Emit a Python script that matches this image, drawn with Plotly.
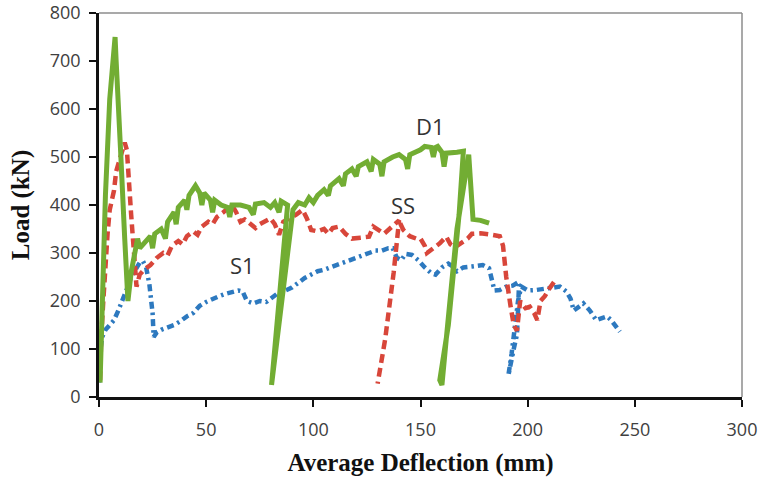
import plotly.graph_objects as go

# Load-deflection curves (deflection in mm, load in kN); None marks a break in the trace
d1_defl = [0.5, 1.5, 3, 5, 7, 7.5, 8, 8.5, 10, 12, 13.5, 15, 17, 18, 19, 21, 24, 25, 26, 29, 31, 32,
           35, 36, 37, 40, 41, 42, 45, 47, 48, 49, 52, 53, 54, 57, 60, 61, 62, 66, 70, 72,
           73, 77, 80, 82, 84, 85, 88, 80.5, 90.5, 93, 96, 98, 100, 102, 105, 107, 108, 112,
           114, 115, 118, 120, 121, 125, 127, 128, 131, 132, 133, 137, 140, 143, 144, 145, 150,
           152, 155, 156, 157, 158, 160, 161, 162, 167, 170, 168, 163, 159, 160, 162, 167,
           172.5, 173.5, 174.5, 178, 182]
d1_load = [30, 200, 420, 620, 720, 750, 700, 640, 520, 330, 200, 260, 300, 330, 310, 320, 335, 310, 340, 350, 330, 365,
           385, 360, 395, 410, 390, 420, 440, 425, 400, 425, 410, 385, 410, 400, 395, 375, 400, 400, 395, 380,
           402, 405, 395, 405, 385, 408, 400, 25, 390, 405, 400, 415, 405, 420, 432, 420, 440, 455,
           440, 465, 475, 460, 480, 490, 470, 495, 485, 460, 490, 500, 505, 495, 475, 505, 515,
           522, 520, 500, 520, 522, 510, 480, 508, 510, 512, 380, 150, 35, 25, 120, 350,
           505, 450, 370, 368, 362]

ss_defl = [0.5, 1, 2, 3, 4, 5, 7, 8, 10, 12, 13, 14, 15, 16, 17.5, 19, 21, 24, 27, 30,
           32, 34, 37, 39, 41, 44, 46, 48, 51, 53, 55, 58, 60, 62, 64, 66, 68, 71, 73, 75,
           78, 80, 82, 84, 86, 89, 92, 95, 97, 99, 102, 105, 107, 109, 112, 115, 118, 122,
           126, 128, 131, 133, 136, 138, 140, 137.5, 133.5, 130, None, 140.5, 142,
           145, 148, 150, 152, 153, 156, 159, 162, 164, 166, 169, 172, 174, 178, 183, 187,
           188.5, 190, 192, 193.5, 195, 196.5, 199, 201, 203, 204.5, 206, 208, 210, 213]
ss_load = [35, 120, 200, 290, 340, 390, 430, 470, 500, 530, 515, 460, 380, 320, 230, 255, 265, 275, 290, 300,
           295, 315, 325, 318, 335, 345, 338, 355, 365, 360, 375, 385, 392, 400, 385, 365, 370, 358, 352, 360,
           368, 372, 360, 338, 365, 372, 380, 390, 372, 348, 345, 350, 340, 352, 355, 340, 330, 332,
           334, 355, 345, 340, 352, 360, 368, 260, 120, 28, None, 362, 348,
           335, 330, 330, 315, 300, 310, 320, 334, 318, 312, 322, 330, 340, 341, 338, 335,
           315, 250, 190, 150, 138, 200, 185, 188, 175, 160, 200, 210, 225, 244]

s1_defl = [0, 0.3, 0.7, 1.5, 3, 5, 7, 9, 11, 13, 15, 17, 19, 20.5, 22, 23.5, 24, 25, 25.5, 27,
           29, 32, 35, 38, 41, 44, 47, 50, 53, 56, 59, 62, 65, 67, 69, 72, 75, 78, 81, 84,
           87, 90, 93, 96, 99, 102, 105, 108, 111, 114, 117, 120, 123, 126, 129, 132, 135, 137,
           139, 141, 143, 146, 149, 152, 155, 157, 160, 163, 165, 167, 170, 174, 179, 182, 183.5,
           184.5, 187, 190, 193, 196, 195.5, 195, 193.5, 192, 191, 192.5, 194, 195.5, 197, 200,
           204, 208, 212, 215, 218, 220, 221.5, 223, 226, 229, 232, 235, 237, 239, 241, 243]
s1_load = [30, 70, 100, 125, 140, 150, 160, 180, 200, 225, 250, 265, 280, 283, 270, 235, 216, 175, 125, 135,
           140, 145, 150, 158, 168, 175, 190, 198, 205, 210, 215, 218, 222, 220, 200, 195, 200, 198, 208, 218,
           222, 228, 238, 248, 255, 262, 265, 270, 275, 280, 285, 290, 295, 300, 305, 305, 310, 310,
           290, 285, 298, 296, 285, 270, 258, 255, 270, 278, 272, 262, 270, 272, 275, 268, 240,
           222, 223, 230, 232, 240, 180, 130, 100, 70, 45, 90, 150, 200, 230, 222,
           223, 226, 230, 230, 220, 205, 180, 185, 195, 180, 160, 165, 168, 160, 148, 136]

x_ticks = [0, 50, 100, 150, 200, 250, 300]
y_ticks = [0, 100, 200, 300, 400, 500, 600, 700, 800]

GREEN = "#72ad33"
RED = "#d8463a"
BLUE = "#2d79bf"

fig = go.Figure()
fig.add_trace(go.Scatter(x=s1_defl, y=s1_load, mode="lines", name="S1",
                         line=dict(color=BLUE, width=4.5, dash="7px,4px,2.5px,4px")))
fig.add_trace(go.Scatter(x=ss_defl, y=ss_load, mode="lines", name="SS", connectgaps=False,
                         line=dict(color=RED, width=4.5, dash="9px,5px")))
fig.add_trace(go.Scatter(x=d1_defl, y=d1_load, mode="lines", name="D1",
                         line=dict(color=GREEN, width=5)))

label_font = dict(family="Open Sans", size=22, color="#333333")
for txt, lx, ly in [("D1", 154.5, 565), ("SS", 142, 400), ("S1", 67, 275)]:
    fig.add_annotation(x=lx, y=ly, text=txt, showarrow=False, font=label_font,
                       xanchor="center", yanchor="middle")

# grey frame on the top and right of the plotting area
for x0, y0, x1, y1 in [(0, 1, 1, 1), (1, 0, 1, 1)]:
    fig.add_shape(type="line", xref="paper", yref="paper", x0=x0, y0=y0, x1=x1, y1=y1,
                  line=dict(color="#8c8c8c", width=1.5))

tick_font = dict(family="Open Sans", size=18, color="#404040")
title_font = dict(family="Liberation Serif", size=25, color="#111111")

fig.update_layout(
    width=762, height=480,
    margin=dict(l=99, r=20, t=13, b=83, autoexpand=False),
    paper_bgcolor="white", plot_bgcolor="white",
    showlegend=False,
    xaxis=dict(range=[0, 300], tickvals=x_ticks, ticks="outside", ticklen=7, tickwidth=1.5,
               tickcolor="#111111", showline=True, linecolor="#111111", linewidth=2.5,
               showgrid=False, zeroline=False, tickfont=tick_font, ticklabelstandoff=8,
               automargin=False,
               title=dict(text="<b>Average Deflection (mm)</b>", font=title_font, standoff=14)),
    yaxis=dict(range=[0, 800], tickvals=y_ticks, ticks="outside", ticklen=7, tickwidth=1.5,
               tickcolor="#111111", showline=True, linecolor="#111111", linewidth=2.5,
               showgrid=False, zeroline=False, tickfont=tick_font, ticklabelstandoff=5,
               automargin=False,
               title=dict(text="<b>Load (kN)</b>", font=title_font, standoff=14)),
)

fig.write_html("out.html")
